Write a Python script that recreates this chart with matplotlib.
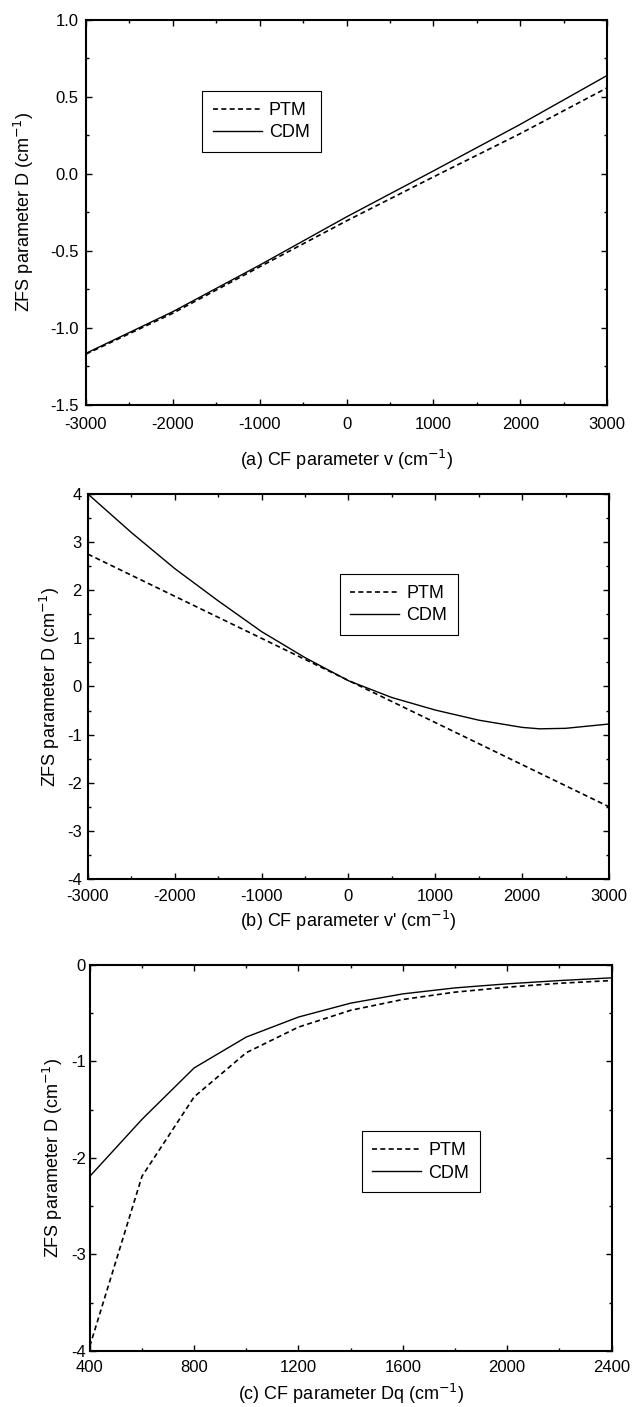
import matplotlib.pyplot as plt
from matplotlib.ticker import MultipleLocator, AutoMinorLocator

plt.rcParams['font.family'] = ['Liberation Sans', 'DejaVu Sans']
plt.rcParams['axes.unicode_minus'] = False

# (a) D vs v
v_a = [-3000, -2000, -1000, 0, 1000, 2000, 3000]
ptm_a = [-1.17, -0.905, -0.604, -0.306, -0.021, 0.26, 0.557]
cdm_a = [-1.165, -0.895, -0.593, -0.28, 0.018, 0.32, 0.637]

# (b) D vs v'
v_b_ptm = [-3000, -2000, -1000, 0, 1000, 2000, 3000]
ptm_b = [2.75, 1.875, 1.0, 0.125, -0.75, -1.625, -2.5]
v_b_cdm = [-3000, -2500, -2000, -1500, -1000, -500, 0, 500, 1000, 1500, 2000, 2200, 2500, 3000]
cdm_b = [4.0, 3.2, 2.45, 1.78, 1.14, 0.6, 0.12, -0.23, -0.49, -0.70, -0.85, -0.88, -0.87, -0.78]

# (c) D vs Dq
dq = [400, 600, 800, 1000, 1200, 1400, 1600, 1800, 2000, 2200, 2400]
ptm_c = [-3.95, -2.19, -1.367, -0.909, -0.644, -0.47, -0.358, -0.282, -0.231, -0.19, -0.162]
cdm_c = [-2.19, -1.60, -1.067, -0.747, -0.54, -0.396, -0.30, -0.238, -0.196, -0.162, -0.134]

fig = plt.figure(figsize=(6.37, 14.07), dpi=100)

panels = [
    dict(rect=[0.135, 0.7122, 0.818, 0.2739], xs=(v_a, v_a), ys=(ptm_a, cdm_a),
         xlim=(-3000, 3000), ylim=(-1.5, 1.0), xmaj=1000, ymaj=0.5, yfmt='%.1f',
         xlabel='(a) CF parameter v (cm$^{-1}$)', leg=(0.223, 0.814),
         xpad=9, ypad=5.5, lpad=11, ylpad=10),
    dict(rect=[0.138, 0.3753, 0.818, 0.2736], xs=(v_b_ptm, v_b_cdm), ys=(ptm_b, cdm_b),
         xlim=(-3000, 3000), ylim=(-4, 4), xmaj=1000, ymaj=1, yfmt='%d',
         xlabel="(b) CF parameter v' (cm$^{-1}$)", leg=(0.483, 0.792),
         xpad=7, ypad=4.3, lpad=4, ylpad=4),
    dict(rect=[0.141, 0.0398, 0.819, 0.2744], xs=(dq, dq), ys=(ptm_c, cdm_c),
         xlim=(400, 2400), ylim=(-4, 0), xmaj=400, ymaj=1, yfmt='%d',
         xlabel='(c) CF parameter Dq (cm$^{-1}$)', leg=(0.521, 0.569),
         xpad=6.5, ypad=3, lpad=5, ylpad=4),
]

for p in panels:
    ax = fig.add_axes(p['rect'])
    ax.plot(p['xs'][0], p['ys'][0], color='black', lw=1.2, linestyle=(0, (3, 2)), label='PTM')
    ax.plot(p['xs'][1], p['ys'][1], color='black', lw=1.0, label='CDM')
    ax.set_xlim(*p['xlim'])
    ax.set_ylim(*p['ylim'])
    ax.xaxis.set_major_locator(MultipleLocator(p['xmaj']))
    ax.yaxis.set_major_locator(MultipleLocator(p['ymaj']))
    ax.xaxis.set_minor_locator(AutoMinorLocator(2))
    ax.yaxis.set_minor_locator(AutoMinorLocator(2))
    ax.yaxis.set_major_formatter(plt.FormatStrFormatter(p['yfmt']))
    ax.tick_params(which='both', direction='in', top=True, right=True,
                   labelsize=12, width=1.0)
    ax.tick_params(which='major', length=4)
    ax.tick_params(which='minor', length=2.5)
    ax.tick_params(axis='x', pad=p['xpad'])
    ax.tick_params(axis='y', pad=p['ypad'])
    for s in ax.spines.values():
        s.set_linewidth(1.5)
    ax.set_xlabel(p['xlabel'], fontsize=13, labelpad=p['lpad'])
    ax.set_ylabel('ZFS parameter D (cm$^{-1}$)', fontsize=13, labelpad=p['ylpad'])
    leg = ax.legend(loc='upper left', bbox_to_anchor=p['leg'], fontsize=13,
                    fancybox=False, edgecolor='black', framealpha=1,
                    handlelength=2.7, borderpad=0.6, labelspacing=0.3,
                    handletextpad=0.4, borderaxespad=0)
    leg.get_frame().set_linewidth(0.8)

fig.savefig('out.png', dpi=100)
